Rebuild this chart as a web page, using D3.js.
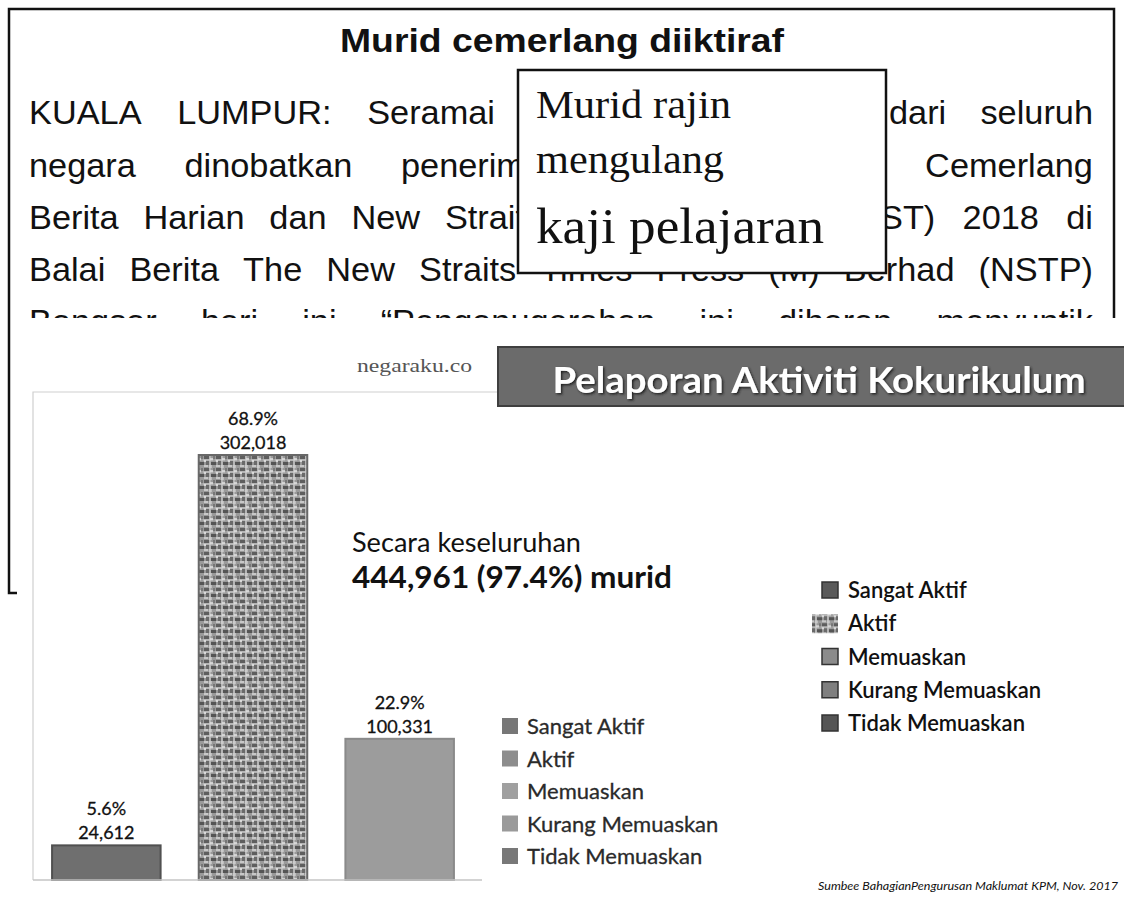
<!DOCTYPE html>
<html>
<head>
<meta charset="utf-8">
<style>
  body { margin: 0; background: #fff; }
  svg { display: block; }
</style>
</head>
<body>
<svg id="chart" width="1124" height="898"></svg>
<script src="https://cdn.jsdelivr.net/npm/d3@7"></script>
<script>
// bar data
const categories = ["Sangat Aktif", "Aktif", "Memuaskan"];
const counts = [24612, 302018, 100331];
const percents = ["5.6%", "68.9%", "22.9%"];
// legend entries
const legendItems = ["Sangat Aktif", "Aktif", "Memuaskan", "Kurang Memuaskan", "Tidak Memuaskan"];
// news clipping text
const newsTitle = "Murid cemerlang diiktiraf";
const newsLeft = ["KUALA LUMPUR: Seramai", "negara dinobatkan penerim", "Berita Harian dan New Strait"];
const newsRight = ["dari seluruh", "Cemerlang", "ST) 2018 di"];
const newsFull = ["Balai Berita The New Straits Times Press (M) Berhad (NSTP)",
                  "Bangsar hari ini \u201cPenganugerahan ini diharap menyuntik"];
const insetLines = ["Murid rajin", "mengulang", "kaji pelajaran"];

const svg = d3.select("#chart");
const defs = svg.append("defs");

// woven texture used for "Aktif"
let weave = defs.append("pattern").attr("id", "weave")
    .attr("patternUnits", "userSpaceOnUse").attr("width", 12).attr("height", 12);
weave.append("rect").attr("width", 12).attr("height", 12).attr("fill", "#9a9a9a");
[[0,0,5,3,"#5e5e5e"],[6,2,4,2,"#cfcfcf"],[2,5,3,4,"#6a6a6a"],[7,6,5,3,"#555"],
 [0,9,4,2,"#c8c8c8"],[9,0,2,5,"#777"],[5,9,3,3,"#bdbdbd"],[0,4,2,2,"#d8d8d8"]]
  .forEach(r => weave.append("rect").attr("x", r[0]).attr("y", r[1])
      .attr("width", r[2]).attr("height", r[3]).attr("fill", r[4]));
weave.append("line").attr("x1", 0).attr("y1", 4).attr("x2", 12).attr("y2", 4)
    .attr("stroke", "#e0e0e0").attr("stroke-width", 0.8);
weave.append("line").attr("x1", 6).attr("y1", 0).attr("x2", 6).attr("y2", 12)
    .attr("stroke", "#e0e0e0").attr("stroke-width", 0.8);

let shadow = defs.append("filter").attr("id", "shadow");
shadow.append("feDropShadow").attr("dx", 1.5).attr("dy", 1.5)
    .attr("stdDeviation", 1).attr("flood-color", "#222");

// ---------- news clipping (top) ----------
let news = svg.append("g");
news.append("rect").attr("x", 9).attr("y", 9).attr("width", 1105).attr("height", 584)
    .attr("fill", "#fff").attr("stroke", "#111").attr("stroke-width", 2.5);

news.append("text").attr("x", 562).attr("y", 52).attr("text-anchor", "middle")
    .attr("font-family", "Liberation Sans, Arial").attr("font-weight", "bold")
    .attr("font-size", 34).attr("textLength", 444).attr("lengthAdjust", "spacingAndGlyphs")
    .attr("fill", "#111").text(newsTitle);

// justified body text: words keep their shape, gaps spread to fill x0..x1
const sx = 1.04;
function justify(line, x0, x1, y) {
  let words = line.split(" ");
  let g = news.append("g");
  let nodes = words.map(w => g.append("text")
      .attr("font-family", "Liberation Sans, Arial").attr("font-size", 33)
      .attr("fill", "#111").text(w));
  let widths = nodes.map(n => n.node().getComputedTextLength() * sx);
  let gap = words.length > 1 ? (x1 - x0 - d3.sum(widths)) / (words.length - 1) : 0;
  let cx = words.length > 1 ? x0 : x1 - widths[0];
  nodes.forEach((n, i) => {
    n.attr("transform", `translate(${cx},${y}) scale(${sx},1)`);
    cx += widths[i] + gap;
  });
}

const lineY = [124, 177, 229, 281, 333];
newsLeft.forEach((t, i) => justify(t, 29, [495, 525, 525][i], lineY[i]));
newsRight.forEach((t, i) => justify(t, [889, 910, 880][i], 1093, lineY[i]));
newsFull.forEach((t, i) => justify(t, 29, 1093, lineY[3 + i]));

// inset box
news.append("rect").attr("x", 518).attr("y", 70).attr("width", 368).attr("height", 203)
    .attr("fill", "#fff").attr("stroke", "#111").attr("stroke-width", 2.5);
const insetY = [118, 173, 243], insetSize = [40, 39, 51], insetW = [195, 188, 288];
insetLines.forEach((t, i) => news.append("text").attr("x", 536).attr("y", insetY[i])
    .attr("font-family", "Liberation Serif, Times New Roman, serif")
    .attr("font-size", insetSize[i]).attr("textLength", insetW[i])
    .attr("lengthAdjust", "spacingAndGlyphs").attr("fill", "#111").text(t));

// ---------- infographic (bottom) ----------
let info = svg.append("g");
info.append("rect").attr("x", 17).attr("y", 318).attr("width", 1107).attr("height", 580).attr("fill", "#fff");

// frame
info.append("path").attr("d", "M498,392 H33 V880")
    .attr("fill", "none").attr("stroke", "#cfcfcf").attr("stroke-width", 1.2);

info.append("text").attr("x", 357).attr("y", 372)
    .attr("font-family", "Liberation Serif, serif").attr("font-size", 19)
    .attr("textLength", 115).attr("lengthAdjust", "spacingAndGlyphs")
    .attr("fill", "#555").text("negaraku.co");

// banner
info.append("rect").attr("x", 498).attr("y", 347).attr("width", 630).attr("height", 59)
    .attr("fill", "#6b6b6b").attr("stroke", "#3f3f3f").attr("stroke-width", 2);
info.append("text").attr("x", 819).attr("y", 393).attr("text-anchor", "middle")
    .attr("font-family", "Lato").attr("font-weight", "bold").attr("font-size", 36)
    .attr("textLength", 533).attr("lengthAdjust", "spacingAndGlyphs")
    .attr("fill", "#fff").attr("filter", "url(#shadow)").text("Pelaporan Aktiviti Kokurikulum");

// scales
let x = d3.scaleBand().domain(categories).range([33, 473]).paddingInner(0.26).paddingOuter(0.13);
let y = d3.scaleLinear().domain([0, d3.max(counts)]).range([880, 455]);

const barFill = ["#6f6f6f", "url(#weave)", "#9c9c9c"];
const barStroke = ["#505050", "#686868", "#8a8a8a"];

info.selectAll(".bar").data(categories).enter().append("rect")
    .attr("class", "bar")
    .attr("x", d => x(d))
    .attr("y", (d, i) => y(counts[i]))
    .attr("width", x.bandwidth())
    .attr("height", (d, i) => y(0) - y(counts[i]))
    .attr("fill", (d, i) => barFill[i])
    .attr("stroke", (d, i) => barStroke[i])
    .attr("stroke-width", 2);

// baseline
info.append("line").attr("x1", 33).attr("x2", 482).attr("y1", 880).attr("y2", 880)
    .attr("stroke", "#c4c4c4").attr("stroke-width", 1.5);

// value labels
let labels = info.selectAll(".lbl").data(categories).enter().append("g").attr("class", "lbl");
labels.append("text").attr("x", d => x(d) + x.bandwidth() / 2)
    .attr("y", (d, i) => y(counts[i]) - 30).attr("text-anchor", "middle")
    .attr("font-family", "Lato").attr("font-size", 18).attr("fill", "#111")
    .attr("stroke", "#111").attr("stroke-width", 0.3)
    .text((d, i) => percents[i]);
labels.append("text").attr("x", d => x(d) + x.bandwidth() / 2)
    .attr("y", (d, i) => y(counts[i]) - 6).attr("text-anchor", "middle")
    .attr("font-family", "Lato").attr("font-size", 18).attr("fill", "#111")
    .attr("stroke", "#111").attr("stroke-width", 0.3)
    .text((d, i) => d3.format(",")(counts[i]));

// total note
info.append("text").attr("x", 352).attr("y", 552)
    .attr("font-family", "Lato").attr("font-size", 27).attr("fill", "#111")
    .attr("textLength", 229).attr("lengthAdjust", "spacingAndGlyphs").text("Secara keseluruhan");
info.append("text").attr("x", 352).attr("y", 588)
    .attr("font-family", "Lato").attr("font-weight", "bold").attr("font-size", 31).attr("fill", "#111")
    .attr("textLength", 320).attr("lengthAdjust", "spacingAndGlyphs").text("444,961 (97.4%) murid");

// lower legend (faded)
let ly = d3.scalePoint().domain(legendItems).range([726, 856]);
const lowFill = ["#777", "#8d8d8d", "#a0a0a0", "#9a9a9a", "#787878"];
let low = info.selectAll(".leglow").data(legendItems).enter().append("g").attr("class", "leglow")
    .attr("transform", d => `translate(502,${ly(d)})`);
low.append("rect").attr("x", 0).attr("y", -8).attr("width", 16).attr("height", 16)
    .attr("fill", (d, i) => lowFill[i]);
low.append("text").attr("x", 25).attr("y", 8)
    .attr("font-family", "Lato").attr("font-size", 22).attr("fill", "#2a2a2a")
    .attr("stroke", "#2a2a2a").attr("stroke-width", 0.3).text(d => d);

// right legend
let ry = d3.scalePoint().domain(legendItems).range([590, 723]);
const hiFill = ["#5a5a5a", "url(#weave)", "#8b8b8b", "#7f7f7f", "#555"];
let hi = info.selectAll(".leghi").data(legendItems).enter().append("g").attr("class", "leghi")
    .attr("transform", d => `translate(822,${ry(d)})`);
hi.append("rect")
    .attr("x", d => d === "Aktif" ? -10 : 0).attr("y", d => d === "Aktif" ? -9 : -8)
    .attr("width", d => d === "Aktif" ? 26 : 16).attr("height", d => d === "Aktif" ? 19 : 16)
    .attr("fill", (d, i) => hiFill[i])
    .attr("stroke", d => d === "Aktif" ? "none" : "#333").attr("stroke-width", 1.5);
hi.append("text").attr("x", 26).attr("y", 8)
    .attr("font-family", "Lato").attr("font-weight", "600").attr("font-size", 22)
    .attr("fill", "#111").text(d => d);

// source
info.append("text").attr("x", 1118).attr("y", 890).attr("text-anchor", "end")
    .attr("font-family", "Lato").attr("font-style", "italic").attr("font-size", 12)
    .attr("textLength", 300).attr("lengthAdjust", "spacingAndGlyphs")
    .attr("fill", "#111").text("Sumbee BahagianPengurusan Maklumat KPM, Nov. 2017");
</script>
</body>
</html>
